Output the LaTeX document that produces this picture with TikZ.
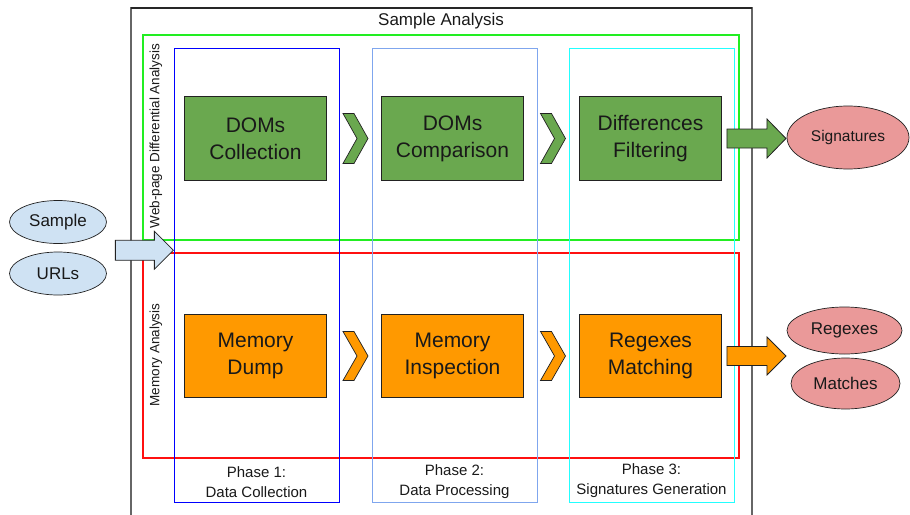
\documentclass[tikz,border=0pt]{standalone}
\usepackage{fontspec}
\setmainfont{Liberation Sans}
\usetikzlibrary{calc,shapes.geometric}

\definecolor{webgreen}{HTML}{6AA84F}
\definecolor{memorange}{HTML}{FF9900}
\definecolor{inblue}{HTML}{CFE2F3}
\definecolor{outpink}{HTML}{EA9999}
\definecolor{frameweb}{HTML}{22EE22}
\definecolor{framemem}{HTML}{FF1010}
\definecolor{phaseone}{HTML}{0000FF}
\definecolor{phasetwo}{HTML}{7FA6EE}
\definecolor{phasethree}{HTML}{22FFFF}
\definecolor{outline}{HTML}{222222}

% block arrow: start point, shaft length, head length, shaft half-height, head half-height
\newcommand\blockarrowpath[5]{%
  (#1) ++(0,-#4) -- ++(#2,0) -- ++(0,{-(#5-#4)}) -- ++(#3,#5) -- ++(-#3,#5)
  -- ++(0,{-(#5-#4)}) -- ++(-#2,0) -- cycle}

\begin{document}
\begin{tikzpicture}[x=1pt,y=-1pt,
  stage/.style={draw=outline, line width=0.9pt, minimum width=142pt, minimum height=84pt,
    align=center, inner sep=0pt, text=black!90, font=\fontsize{21}{27}\selectfont},
  web/.style={stage, fill=webgreen},
  mem/.style={stage, fill=memorange, minimum height=83pt},
  io/.style={ellipse, draw=outline, line width=0.7pt, inner sep=0pt, text=black!90,
    font=\fontsize{17}{20}\selectfont},
  phase/.style={align=center, text=black!90, font=\fontsize{15}{20}\selectfont},
  lane/.style={rotate=90, text=black!90, font=\fontsize{13.5}{16}\selectfont},
  barrow/.style={draw=outline, line width=0.8pt, line join=miter},
  chev/.style={draw=outline, line width=0.7pt, line join=miter}
]
\useasboundingbox (0,0) rectangle (910,514);
\clip (0,0) rectangle (910,514);

% overall container
\draw[black!60, line width=1.6pt] (131,8) rectangle (752,530);
\draw[black!85, line width=1.2pt] (131,8) -- (752,8);
\node[font=\fontsize{17}{20}\selectfont, text=black!90] (title) at (441,21) {Sample Analysis};

% analysis lanes
\draw[frameweb, line width=1.3pt] (143,35) rectangle (739,240);
\draw[framemem, line width=1.3pt] (143,253) rectangle (739,458);
\node[lane] (weblane) at (156,136) {Web-page Differential Analysis};
\node[lane] (memlane) at (156,355) {Memory Analysis};

% phase columns
\draw[phaseone, line width=1pt] (174,48) rectangle (339,502);
\draw[phasetwo, line width=1pt] (372,48) rectangle (537,502);
\draw[phasethree, line width=1pt] (569,48) rectangle (734,502);
\node[phase] (ph1) at (256.5,482) {Phase 1:\\Data Collection};
\node[phase] (ph2) at (454.5,482) {Phase 2:\\Data Processing};
\node[phase] (ph3) at (651.5,481) {Phase 3:\\Signatures Generation};

% stages
\node[web] (collect) at (255.5,138.5) {DOMs\\Collection};
\node[web] (compare) at (452.5,138.5) {DOMs\\Comparison};
\node[web] (filter)  at (650.5,138.5) {Differences\\Filtering};
\node[mem] (dump)    at (255.5,356) {Memory\\Dump};
\node[mem] (inspect) at (452.5,356) {Memory\\Inspection};
\node[mem] (match)   at (650.5,356) {Regexes\\Matching};

% chevrons between stages
\coordinate (cw1) at ($(collect.east)!0.5!(compare.west)$);
\coordinate (cw2) at ($(compare.east)!0.5!(filter.west)$);
\coordinate (cm1) at ($(dump.east)!0.5!(inspect.west)$);
\coordinate (cm2) at ($(inspect.east)!0.5!(match.west)$);
\foreach \c/\f/\h in {cw1/webgreen/25, cw2/webgreen/25, cm1/memorange/24.5, cm2/memorange/24.5}{
  \draw[chev, fill=\f] (\c) ++(-11,-\h) -- ++(11,0) -- ++(14,\h) -- ++(-14,\h)
    -- ++(-11,0) -- ++(14,-\h) -- cycle;
}

% inputs
\node[io, fill=inblue, minimum width=97pt, minimum height=43pt] (sample) at (58,222) {Sample};
\node[io, fill=inblue, minimum width=97pt, minimum height=43pt] (urls) at (58,273.5) {URLs};
\coordinate (intail) at ($(sample.east)!0.5!(urls.east)+(8.5,2.5)$);
\draw[barrow, fill=inblue] \blockarrowpath{intail}{39}{19}{10}{19};

% outputs
\node[io, fill=outpink, minimum width=122pt, minimum height=63pt,
  font=\fontsize{15.5}{18}\selectfont] (sigs) at (848,137.5) {Signatures};
\node[io, fill=outpink, minimum width=115pt, minimum height=47pt] (regex) at (844.5,330.5) {Regexes};
\node[io, fill=outpink, minimum width=109pt, minimum height=51pt] (matches) at (845.5,383.5) {Matches};

\coordinate (webtail) at ($(filter.east)+(5,0)$);
\coordinate (memtail) at ($(match.east)+(5,0)$);
\draw[barrow, fill=webgreen] \blockarrowpath{webtail}{40}{19}{9.5}{19.5};
\draw[barrow, fill=memorange] \blockarrowpath{memtail}{40}{19}{9.5}{19};
\end{tikzpicture}
\end{document}
